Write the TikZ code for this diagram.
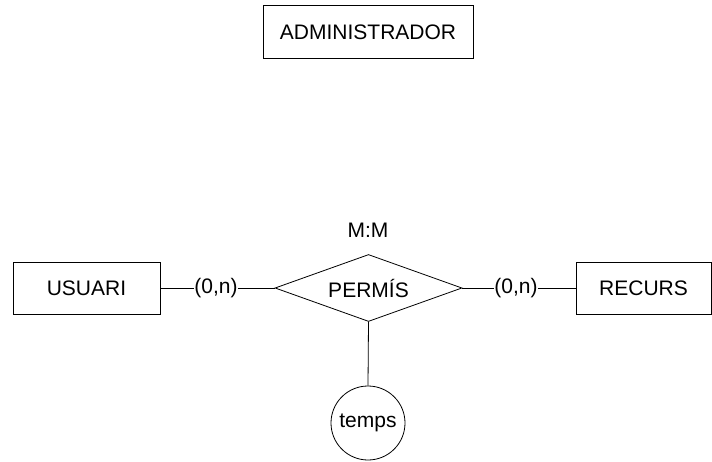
\documentclass[tikz,border=0pt]{standalone}
\usepackage{fontspec}
\setmainfont{Liberation Sans}
\usetikzlibrary{shapes.geometric}
\begin{document}
\begin{tikzpicture}[x=1pt,y=-1pt,
  every node/.style={font=\fontsize{21}{24}\selectfont, line width=0.8pt},
  entity/.style={draw, rectangle, inner sep=0pt},
  rel/.style={draw, diamond, inner sep=0pt, aspect=2.8, minimum width=187pt, minimum height=67pt},
  attr/.style={draw, circle, inner sep=0pt, minimum size=74pt},
  card/.style={inner sep=0pt},
  conn/.style={line width=0.8pt}]
\useasboundingbox (0,0) rectangle (712,462);
\node[entity, minimum width=210pt, minimum height=53pt] (adm) at (368,32) {ADMINISTRADOR};
\node[entity, minimum width=147pt, minimum height=52pt] (usu) at (86.5,288) {USUARI};
\node[entity, minimum width=135pt, minimum height=52pt] (rec) at (643.5,288) {RECURS};
\node[rel] (perm) at (368.5,288) {PERMÍS};
\node (mm) at (368,230) {M:M};
\node[attr] (temps) at (368,423) {temps};
\node[card] (c1) at (216,288) {(0,n)};
\node[card] (c2) at (516,288) {(0,n)};
\draw[conn] (usu.east) -- (c1.west);
\draw[conn] (c1.east) -- (perm.west);
\draw[conn] (perm.east) -- (c2.west);
\draw[conn] (c2.east) -- (rec.west);
\draw[conn] (perm.south) -- (temps.north);
\end{tikzpicture}
\end{document}
